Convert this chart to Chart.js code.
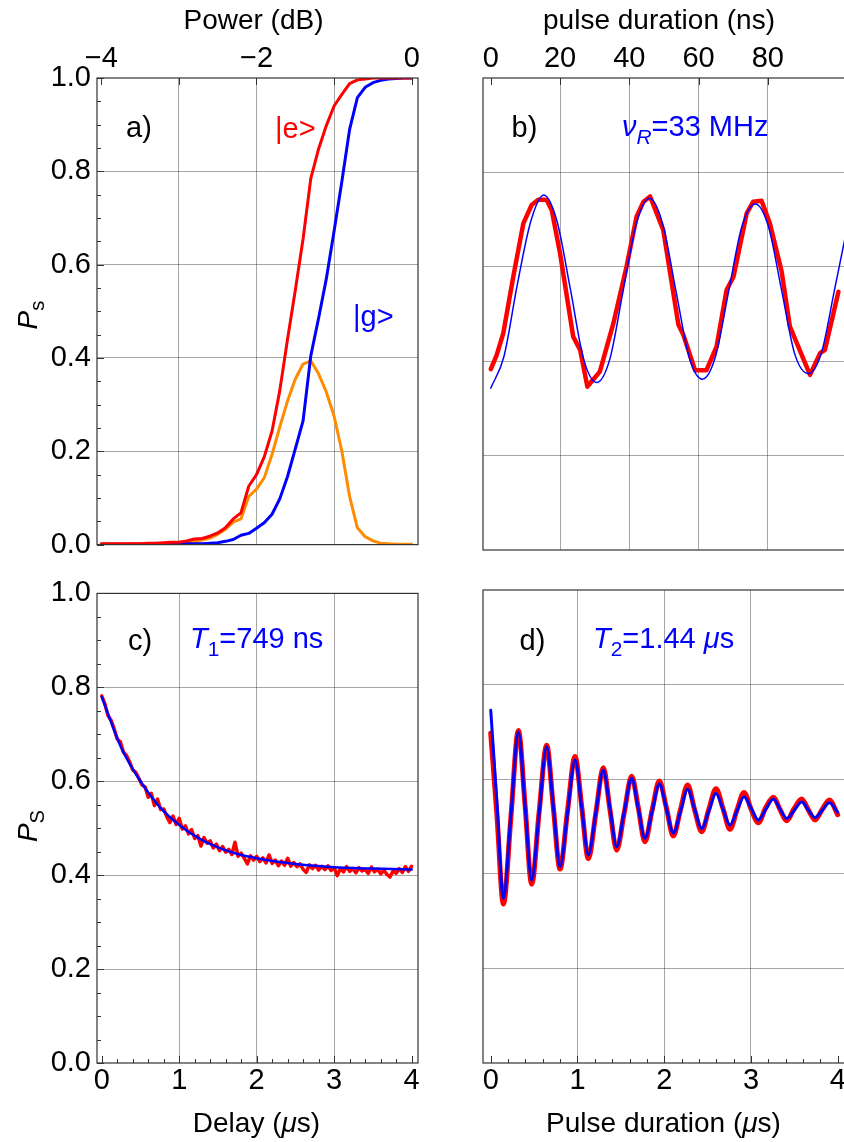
<!DOCTYPE html>
<html>
<head>
<meta charset="utf-8">
<script src="https://cdn.jsdelivr.net/npm/chart.js@4.4.1/dist/chart.umd.min.js"></script>
<style>
  html, body { margin: 0; padding: 0; background: #fff; overflow: hidden; }
  body { width: 844px; height: 1142px; position: relative; }
  canvas { position: absolute; }
</style>
</head>
<body>
<canvas id="panel-a" width="440" height="568" style="left:0;top:0"></canvas>
<canvas id="panel-b" width="390" height="568" style="left:470px;top:0"></canvas>
<canvas id="panel-c" width="440" height="572" style="left:0;top:570px"></canvas>
<canvas id="panel-d" width="390" height="572" style="left:470px;top:570px"></canvas>
<script>
// ---- data ----

// a) spectroscopy vs drive power
const powerDb = [-4,-3.9,-3.8,-3.7,-3.6,-3.5,-3.4,-3.3,-3.2,-3.1,-3,-2.9,-2.8,-2.7,-2.6,-2.5,-2.4,-2.3,-2.2,-2.1,-2,
  -1.9,-1.8,-1.7,-1.6,-1.5,-1.4,-1.3,-1.2,-1.1,-1,-0.9,-0.8,-0.7,-0.6,-0.5,-0.4,-0.3,-0.2,-0.1,0];
const stateE = [0.002,0.002,0.002,0.002,0.002,0.002,0.003,0.003,0.004,0.005,0.005,0.008,0.012,0.013,0.018,0.025,0.036,0.055,0.068,0.125,0.150,
  0.188,0.243,0.330,0.440,0.545,0.655,0.785,0.848,0.898,0.940,0.965,0.988,0.996,0.998,1.0,1.0,1.0,1.0,1.0,1.0];
const stateG = [0.001,0.001,0.001,0.001,0.001,0.001,0.001,0.001,0.001,0.001,0.001,0.002,0.002,0.002,0.003,0.004,0.007,0.011,0.020,0.024,0.035,
  0.047,0.065,0.098,0.146,0.205,0.265,0.405,0.485,0.570,0.672,0.778,0.890,0.958,0.980,0.990,0.995,0.998,0.999,1.0,1.0];
const stateDiff = [0.001,0.001,0.001,0.001,0.001,0.002,0.002,0.002,0.002,0.003,0.003,0.004,0.006,0.010,0.014,0.022,0.033,0.048,0.055,0.103,0.119,
  0.143,0.193,0.252,0.308,0.355,0.387,0.394,0.366,0.327,0.275,0.200,0.103,0.036,0.017,0.008,0.003,0.002,0.001,0.001,0.001];

// b) Rabi oscillation
const rabiTime = [0,1.7,3.6,6.5,9.4,11.8,13.7,16.1,17.6,20.0,23.8,25.8,27.9,29.1,31.5,35.4,39.2,42.1,44.1,46.0,
  49.8,54.2,55.6,59.0,62.3,65.2,68.1,70.1,73.9,75.8,78.2,80.6,84.0,86.4,88.8,92.2,95.1,96.5,100.4];
const rabiData = [0.383,0.413,0.459,0.579,0.692,0.731,0.742,0.742,0.720,0.629,0.452,0.424,0.346,0.357,0.378,0.480,0.600,0.706,0.738,0.749,
  0.678,0.477,0.456,0.381,0.381,0.431,0.551,0.579,0.713,0.738,0.740,0.692,0.590,0.473,0.431,0.371,0.417,0.424,0.547];
const rabiFitTime = [0,3.8,7.6,11.5,15.3,19.1,23.0,26.8,30.6,34.4,38.2,42.0,45.8,49.6,53.5,57.3,61.1,64.9,68.7,72.5,
  76.4,80.2,84.0,87.8,91.7,95.5,99.3,103.1];
const rabiFit = [0.343,0.41,0.56,0.695,0.752,0.697,0.552,0.405,0.355,0.405,0.548,0.690,0.745,0.692,0.548,0.408,0.362,0.410,0.548,0.685,
  0.733,0.685,0.550,0.415,0.374,0.418,0.552,0.69];

// c) energy relaxation
const t1Time = [0,0.04,0.08,0.12,0.16,0.2,0.24,0.28,0.32,0.36,0.4,0.44,0.48,0.52,0.56,0.6,0.64,0.68,0.72,0.76,0.8,0.84,0.88,0.92,0.96,
  1,1.04,1.08,1.12,1.16,1.2,1.24,1.28,1.32,1.36,1.4,1.44,1.48,1.52,1.56,1.6,1.64,1.68,1.72,1.76,1.8,1.84,1.88,1.92,1.96,
  2,2.04,2.08,2.12,2.16,2.2,2.24,2.28,2.32,2.36,2.4,2.44,2.48,2.52,2.56,2.6,2.64,2.68,2.72,2.76,2.8,2.84,2.88,2.92,2.96,
  3,3.04,3.08,3.12,3.16,3.2,3.24,3.28,3.32,3.36,3.4,3.44,3.48,3.52,3.56,3.6,3.64,3.68,3.72,3.76,3.8,3.84,3.88,3.92,3.96,4];
const t1Data = [0.782,0.765,0.740,0.730,0.712,0.690,0.684,0.662,0.655,0.641,0.624,0.619,0.606,0.592,0.588,0.566,0.574,0.548,0.562,0.540,
  0.541,0.524,0.512,0.526,0.508,0.521,0.498,0.505,0.488,0.497,0.478,0.484,0.462,0.480,0.468,0.473,0.458,0.466,0.452,0.461,
  0.449,0.455,0.444,0.470,0.440,0.447,0.436,0.424,0.441,0.432,0.440,0.429,0.437,0.426,0.443,0.425,0.432,0.420,0.430,0.421,
  0.436,0.419,0.427,0.418,0.424,0.412,0.406,0.422,0.414,0.421,0.411,0.419,0.412,0.420,0.410,0.416,0.399,0.414,0.407,0.418,
  0.408,0.414,0.405,0.416,0.409,0.412,0.404,0.417,0.407,0.413,0.403,0.410,0.402,0.396,0.409,0.404,0.414,0.406,0.418,0.408,0.419];
const t1FitTime = [0,0.25,0.5,0.75,1,1.25,1.5,1.75,2,2.25,2.5,2.75,3,3.25,3.5,3.75,4];
const t1Fit = [0.780,0.672,0.600,0.545,0.507,0.479,0.459,0.445,0.436,0.429,0.424,0.420,0.417,0.415,0.414,0.413,0.412];

// d) Ramsey fringes
const ramseyTime = [0,0.073,0.146,0.233,0.319,0.396,0.472,0.558,0.645,0.722,0.799,0.885,0.972,1.049,1.125,1.212,1.298,1.375,1.452,1.538,
  1.625,1.701,1.778,1.861,1.944,2.025,2.105,2.188,2.270,2.351,2.432,2.515,2.597,2.678,2.758,2.839,2.920,3.003,3.085,3.171,
  3.258,3.335,3.412,3.498,3.585,3.662,3.739,3.821,3.904,4.0];
const ramseyData = [0.697,0.520,0.336,0.520,0.703,0.545,0.378,0.530,0.672,0.540,0.410,0.532,0.648,0.542,0.432,0.528,0.624,0.535,0.450,0.528,
  0.606,0.540,0.468,0.535,0.596,0.540,0.480,0.536,0.588,0.535,0.489,0.537,0.580,0.538,0.494,0.535,0.572,0.536,0.508,0.540,
  0.562,0.536,0.512,0.538,0.558,0.535,0.514,0.536,0.556,0.525];
const ramseyFit = [0.746,0.547,0.348,0.524,0.700,0.543,0.387,0.528,0.669,0.542,0.415,0.528,0.641,0.540,0.440,0.530,0.619,0.538,0.457,0.530,
  0.602,0.538,0.475,0.532,0.590,0.538,0.486,0.532,0.579,0.537,0.496,0.533,0.570,0.536,0.503,0.533,0.563,0.538,0.514,0.536,
  0.558,0.537,0.517,0.534,0.552,0.535,0.519,0.534,0.550,0.530];

// ticks
const probTicks = [0,0.2,0.4,0.6,0.8,1];
const probLabels = ['0.0','0.2','0.4','0.6','0.8','1.0'];
const probMarks = [0,0.05,0.1,0.15,0.2,0.25,0.3,0.35,0.4,0.45,0.5,0.55,0.6,0.65,0.7,0.75,0.8,0.85,0.9,0.95,1];
const powerTicks = [-4,-3,-2,-1,0];
const powerLabels = ['\u22124','','\u22122','','0'];
const nsTicks = [0,20,40,60,80];
const nsLabels = ['0','20','40','60','80'];
const usTicks = [0,1,2,3,4];
const usLabels = ['0','1','2','3','4'];
const usMarks = [0,0.2,0.4,0.6,0.8,1,1.2,1.4,1.6,1.8,2,2.2,2.4,2.6,2.8,3,3.2,3.4,3.6,3.8,4];

// ---- styling ----
const FONT = '"Liberation Sans", Arial, Helvetica, sans-serif';
const RED = 'rgb(255,0,0)';
const BLUE = 'rgb(0,0,255)';
const ORANGE = 'rgb(255,140,0)';
const GRID = 'rgba(0,0,0,0.35)';
const NONE = 'rgba(0,0,0,0)';

Chart.defaults.font.family = FONT;

function xy(xs, ys) {
    return xs.map((x, i) => ({ x: x, y: ys[i] }));
}

function line(data, color, width, smooth) {
    return {
        data: data,
        borderColor: color,
        borderWidth: width,
        pointRadius: 0,
        showLine: true,
        tension: 0,
        cubicInterpolationMode: smooth ? 'monotone' : 'default',
        borderJoinStyle: 'round',
        borderCapStyle: 'round'
    };
}

// draws text made of pieces (italic, subscript) starting at x on baseline y
function drawRich(ctx, parts, x, y, size, color, align) {
    const fontOf = p => (p.it ? 'italic ' : '') + (p.sub ? size * 0.72 : size) + 'px ' + FONT;
    let w = 0;
    parts.forEach(p => { ctx.font = fontOf(p); w += ctx.measureText(p.t).width; });
    let cx = align === 'center' ? x - w / 2 : x;
    ctx.fillStyle = color;
    ctx.textAlign = 'left';
    ctx.textBaseline = 'alphabetic';
    parts.forEach(p => {
        ctx.font = fontOf(p);
        ctx.fillText(p.t, cx, y + (p.sub ? size * 0.26 : 0));
        cx += ctx.measureText(p.t).width;
    });
}

const panelExtras = {
    id: 'panelExtras',
    afterDraw(chart, args, opts) {
        const ctx = chart.ctx;
        const a = chart.chartArea;
        ctx.save();
        ctx.strokeStyle = '#333';
        ctx.lineWidth = 1;
        (opts.marks || []).forEach(m => {
            const scale = chart.scales[m.scale];
            m.values.forEach((v, i) => {
                const len = i % m.every === 0 ? 7 : 4;
                const p = Math.round(scale.getPixelForValue(v)) + 0.5;
                ctx.beginPath();
                if (m.side === 'left') { ctx.moveTo(a.left, p); ctx.lineTo(a.left + len, p); }
                else if (m.side === 'top') { ctx.moveTo(p, a.top); ctx.lineTo(p, a.top + len); }
                else { ctx.moveTo(p, a.bottom); ctx.lineTo(p, a.bottom - len); }
                ctx.stroke();
            });
        });
        ctx.strokeStyle = '#333';
        ctx.lineWidth = 1.2;
        ctx.strokeRect(a.left, a.top, a.right - a.left, a.bottom - a.top);
        (opts.notes || []).forEach(n => {
            ctx.save();
            ctx.translate(n.x, n.y);
            if (n.rotate) ctx.rotate(-Math.PI / 2);
            drawRich(ctx, n.parts, 0, 0, n.size || 29, n.color || '#000', n.align || 'left');
            ctx.restore();
        });
        ctx.restore();
    }
};

function probAxis(showLabels, width) {
    return {
        type: 'linear', min: 0, max: 1,
        afterBuildTicks: s => { s.ticks = probTicks.map(v => ({ value: v })); },
        afterFit: s => { s.width = width; },
        border: { display: false },
        grid: { color: c => (c.tick.value === 0 || c.tick.value === 1) ? NONE : GRID, lineWidth: 1, drawTicks: false },
        ticks: { display: showLabels, padding: 6, color: '#000', font: { size: 29 }, callback: (v, i) => probLabels[i] }
    };
}

function valueAxis(pos, min, max, tickVals, tickLabels, edges, height, pad) {
    return {
        type: 'linear', position: pos, min: min, max: max,
        afterBuildTicks: s => { s.ticks = tickVals.map(v => ({ value: v })); },
        afterFit: s => { s.height = height; },
        border: { display: false },
        grid: { color: c => edges.includes(c.tick.value) ? NONE : GRID, lineWidth: 1, drawTicks: false },
        ticks: { padding: pad, color: '#000', font: { size: 29 }, maxRotation: 0, autoSkip: false,
                 callback: (v, i) => tickLabels[i] }
    };
}

function makeChart(id, datasets, scales, padding, extras) {
    return new Chart(document.getElementById(id), {
        type: 'scatter',
        data: { datasets: datasets },
        options: {
            responsive: false,
            animation: false,
            devicePixelRatio: 1,
            layout: { padding: padding },
            scales: scales,
            plugins: { legend: { display: false }, tooltip: { enabled: false }, panelExtras: extras }
        },
        plugins: [panelExtras]
    });
}

// a)
makeChart('panel-a', [
    line(xy(powerDb, stateE), RED, 3),
    line(xy(powerDb, stateG), BLUE, 3),
    line(xy(powerDb, stateDiff), ORANGE, 3)
], {
    x: valueAxis('top', -4.055, 0.081, powerTicks, powerLabels, [-4, 0], 78, 2),
    y: probAxis(true, 97)
}, { left: 0, top: 0, right: 22, bottom: 18 }, {
    marks: [
        { scale: 'y', side: 'left', values: probMarks, every: 4 },
        { scale: 'x', side: 'top', values: powerTicks, every: 1 }
    ],
    notes: [
        { x: 253.5, y: 29, size: 28, align: 'center', parts: [{ t: 'Power (dB)' }] },
        { x: 37, y: 315, rotate: true, size: 28, align: 'center', parts: [{ t: 'P', it: true }, { t: 's', sub: true }] },
        { x: 139, y: 137, align: 'center', parts: [{ t: 'a)' }] },
        { x: 275, y: 138, color: RED, parts: [{ t: '|e>' }] },
        { x: 353, y: 326, color: BLUE, parts: [{ t: '|g>' }] }
    ]
});

// b)
makeChart('panel-b', [
    line(xy(rabiFitTime, rabiFit), BLUE, 1.5, true),
    line(xy(rabiTime, rabiData), RED, 4.5)
], {
    x: valueAxis('top', -2.25, 104.9, nsTicks, nsLabels, [0], 78, 2),
    y: probAxis(false, 13)
}, { left: 0, top: 0, right: 6, bottom: 18 }, {
    marks: [{ scale: 'x', side: 'top', values: nsTicks, every: 1 }],
    notes: [
        { x: 189, y: 29, size: 28, align: 'center', parts: [{ t: 'pulse duration (ns)' }] },
        { x: 54.5, y: 137, align: 'center', parts: [{ t: 'b)' }] },
        { x: 152, y: 136, color: BLUE, parts: [{ t: '\u03bd', it: true }, { t: 'R', it: true, sub: true }, { t: '=33 MHz' }] }
    ]
});

// c)
makeChart('panel-c', [
    line(xy(t1FitTime, t1Fit), BLUE, 2.5, true),
    line(xy(t1Time, t1Data), RED, 3.5)
], {
    x: valueAxis('bottom', -0.061, 4.082, usTicks, usLabels, [0, 4], 79, 1),
    y: probAxis(true, 97)
}, { left: 0, top: 20, right: 22, bottom: 0 }, {
    marks: [
        { scale: 'y', side: 'left', values: probMarks, every: 4 },
        { scale: 'x', side: 'bottom', values: usMarks, every: 5 }
    ],
    notes: [
        { x: 256.5, y: 562, size: 28, align: 'center', parts: [{ t: 'Delay (' }, { t: '\u03bc', it: true }, { t: 's)' }] },
        { x: 37, y: 256, rotate: true, size: 28, align: 'center', parts: [{ t: 'P', it: true }, { t: 'S', sub: true }] },
        { x: 140, y: 80, align: 'center', parts: [{ t: 'c)' }] },
        { x: 190, y: 78, color: BLUE, parts: [{ t: 'T', it: true }, { t: '1', sub: true }, { t: '=749 ns' }] }
    ]
});

// d)
makeChart('panel-d', [
    line(xy(ramseyTime, ramseyFit), BLUE, 3, true),
    line(xy(ramseyTime, ramseyData), RED, 5, true)
], {
    x: valueAxis('bottom', -0.089, 4.188, usTicks, usLabels, [0, 4], 79, 1),
    y: probAxis(false, 13)
}, { left: 0, top: 20, right: 6, bottom: 0 }, {
    marks: [{ scale: 'x', side: 'bottom', values: usMarks, every: 5 }],
    notes: [
        { x: 193.5, y: 562, size: 28, align: 'center', parts: [{ t: 'Pulse duration (' }, { t: '\u03bc', it: true }, { t: 's)' }] },
        { x: 62.5, y: 80, align: 'center', parts: [{ t: 'd)' }] },
        { x: 123, y: 78, color: BLUE, parts: [{ t: 'T', it: true }, { t: '2', sub: true }, { t: '=1.44 ' }, { t: '\u03bc', it: true }, { t: 's' }] }
    ]
});
</script>
</body>
</html>
